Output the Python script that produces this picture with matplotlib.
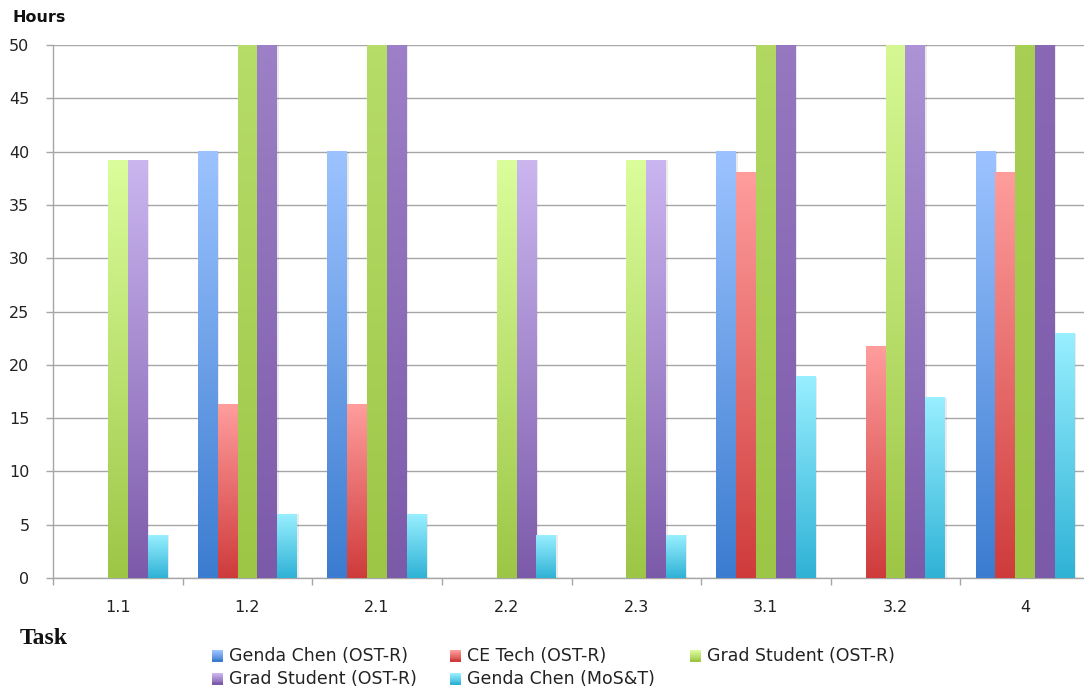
import numpy as np
import matplotlib
matplotlib.use("Agg")
import matplotlib.pyplot as plt
from matplotlib.colors import LinearSegmentedColormap
from matplotlib.patches import Rectangle

# ---- data -------------------------------------------------------------
tasks = ["1.1", "1.2", "2.1", "2.2", "2.3", "3.1", "3.2", "4"]
series_names = [
    "Genda Chen (OST-R)",
    "CE Tech (OST-R)",
    "Grad Student (OST-R)",
    "Grad Student (OST-R)",
    "Genda Chen (MoS&T)",
]
genda_ostr = [0, 40, 40, 0, 0, 40, 0, 40]
ce_tech = [0, 16.3, 16.3, 0, 0, 38, 21.7, 38]
grad_green = [39.2, 120, 120, 39.2, 39.2, 150, 55, 300]
grad_purple = [39.2, 120, 120, 39.2, 39.2, 150, 80, 300]
genda_most = [4, 6, 6, 4, 4, 18.9, 16.9, 22.9]
yticks = [0, 5, 10, 15, 20, 25, 30, 35, 40, 45, 50]

series_values = [genda_ostr, ce_tech, grad_green, grad_purple, genda_most]
# (light top colour, dark bottom colour) for each series
gradients = [
    ("#9cc3ff", "#3b7cd0"),
    ("#ff9d9d", "#cf3b3b"),
    ("#dbfd9b", "#9dc646"),
    ("#cbb6f0", "#7c5aaa"),
    ("#98efff", "#2fb2d6"),
]

FONT = "DejaVu Sans"
FS = 11.5
W, H = 1084, 692
fig = plt.figure(figsize=(W / 100, H / 100), dpi=100)

# axes box in pixels: left 53, right 1090 (runs past the edge), top 45, bottom 578
left, right, top, bottom = 53, 1090, 45, 578
ax = fig.add_axes([left / W, 1 - bottom / H, (right - left) / W, (bottom - top) / H])

n_cat = len(tasks)
bar_w = 0.153
group_offset = -2.5 * bar_w
ymax = 50

for s, vals in enumerate(series_values):
    light, dark = gradients[s]
    cmap = LinearSegmentedColormap.from_list(f"g{s}", [dark, light])
    for i, v in enumerate(vals):
        if v <= 0:
            continue
        x0 = i + group_offset + s * bar_w
        grad = np.linspace(0, 1, 256).reshape(-1, 1)
        # faint shadow to the right of each bar
        ax.add_patch(Rectangle((x0 + bar_w, 0), 0.012, min(v, ymax), color="#000000",
                               alpha=0.08, lw=0, zorder=2))
        ax.imshow(grad, cmap=cmap, origin="lower", aspect="auto",
                  extent=(x0, x0 + bar_w, 0, v), interpolation="bilinear", zorder=3)

ax.set_xlim(-0.5, n_cat - 0.5)
ax.set_ylim(0, ymax)
ax.set_yticks(yticks)
ax.set_yticklabels([str(t) for t in yticks], fontsize=FS, fontfamily=FONT, color="#222222")
ax.yaxis.grid(True, color="#a6a6a6", lw=1.0, zorder=1)
ax.set_axisbelow(True)

# category boundaries carry the x ticks; labels sit at the centres
ax.set_xticks(np.arange(n_cat + 1) - 0.5)
ax.set_xticklabels([])
ax.set_xticks(np.arange(n_cat), minor=True)
ax.set_xticklabels(tasks, minor=True, fontsize=FS, fontfamily=FONT, color="#222222")
ax.tick_params(axis="x", which="major", length=5, color="#a6a6a6", width=1.0)
ax.tick_params(axis="x", which="minor", length=0, pad=16)
ax.tick_params(axis="y", length=5, color="#a6a6a6", width=1.0, pad=12)

for side in ("top", "right"):
    ax.spines[side].set_visible(False)
for side in ("left", "bottom"):
    ax.spines[side].set_color("#a6a6a6")
    ax.spines[side].set_linewidth(1.0)

fig.text(12 / W, 1 - 17 / H, "Hours", fontsize=FS, fontweight="bold", fontfamily=FONT,
         va="center", ha="left", color="#111111")
fig.text(20 / W, 1 - 638 / H, "Task", fontsize=17, fontweight="bold",
         fontfamily="Liberation Serif", va="center", ha="left", color="#111111")

# legend laid out in two rows, three columns
legend_pos = [(212, 656), (450, 656), (690, 656), (212, 679), (450, 679)]
sq = 11
for s, (px, py) in enumerate(legend_pos):
    light, dark = gradients[s]
    cmap = LinearSegmentedColormap.from_list(f"l{s}", [light, dark])
    steps = 12
    for k in range(steps):
        fig.patches.append(Rectangle(((px) / W, 1 - (py - sq / 2 + (k + 1) * sq / steps) / H),
                                     sq / W, (sq / steps) / H + 0.0003,
                                     transform=fig.transFigure, color=cmap(k / (steps - 1)),
                                     lw=0))
    fig.text((px + 17) / W, 1 - py / H, series_names[s], fontsize=12.5, fontfamily=FONT,
             va="center", ha="left", color="#222222")

fig.savefig("out.png", dpi=100)
